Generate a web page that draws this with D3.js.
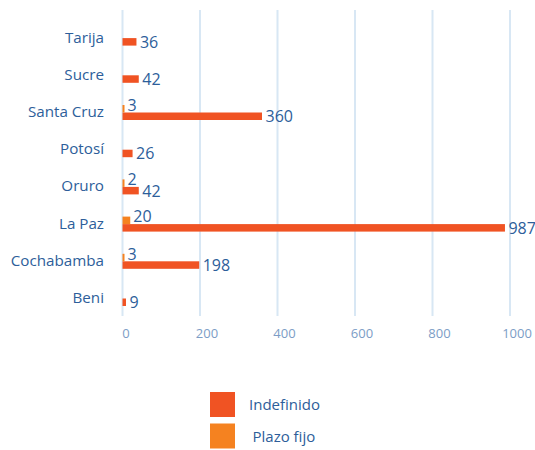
<!DOCTYPE html>
<html>
<head>
<meta charset="utf-8">
<script src="https://cdn.jsdelivr.net/npm/d3@7"></script>
<style>
  body { margin: 0; background: #fff; }
  text { font-family: "Open Sans", sans-serif; }
</style>
</head>
<body>
<svg id="chart"></svg>
<script>
const width = 535;
const height = 450;

const categories = ["Tarija", "Sucre", "Santa Cruz", "Potosí", "Oruro", "La Paz", "Cochabamba", "Beni"];
const indefinido = [36, 42, 360, 26, 42, 987, 198, 9];
const plazoFijo = [null, null, 3, null, 2, 20, 3, null];
const ticks = [0, 200, 400, 600, 800, 1000];
const seriesNames = ["Indefinido", "Plazo fijo"];

const textColor = "#2d5e9a";
const colors = { "Indefinido": "#f05323", "Plazo fijo": "#f58220" };

const svg = d3.select("#chart")
  .attr("width", width)
  .attr("height", height);

const x = d3.scaleLinear().domain([0, 1000]).range([122.5, 510]);
const y = d3.scaleBand().domain(categories).range([18, 315.6]);
// sub bars inside each category: plazo on top, indefinido below
const sub = d3.scaleBand().domain(["Plazo fijo", "Indefinido"]).range([0, 15]);
const groupTop = (c) => y(c) + y.bandwidth() / 2 - 6;

// gridlines
svg.append("g")
  .selectAll("line")
  .data(ticks)
  .enter()
  .append("line")
  .attr("x1", (d) => x(d))
  .attr("x2", (d) => x(d))
  .attr("y1", 10)
  .attr("y2", 316)
  .attr("stroke", "#d8e7f4")
  .attr("stroke-width", 2);

// tick labels
svg.append("g")
  .selectAll("text")
  .data(ticks)
  .enter()
  .append("text")
  .attr("x", (d) => x(d) + (d === 0 ? 3.5 : 7))
  .attr("y", 333)
  .attr("text-anchor", "middle")
  .attr("dominant-baseline", "central")
  .attr("font-size", "13px")
  .attr("fill", "#7c9dc6")
  .text((d) => d);

// category labels
svg.append("g")
  .selectAll("text")
  .data(categories)
  .enter()
  .append("text")
  .attr("x", 104)
  .attr("y", (d) => y(d) + y.bandwidth() / 2)
  .attr("text-anchor", "end")
  .attr("dominant-baseline", "central")
  .attr("font-size", "15.2px")
  .attr("fill", textColor)
  .text((d) => d);

const rows = categories.map((c, i) => ({ cat: c, ind: indefinido[i], plazo: plazoFijo[i] }));

// indefinido bars
svg.append("g")
  .selectAll("rect")
  .data(rows)
  .enter()
  .append("rect")
  .attr("x", x(0))
  .attr("y", (d) => groupTop(d.cat) + sub("Indefinido"))
  .attr("width", (d) => x(d.ind) - x(0))
  .attr("height", sub.bandwidth())
  .attr("fill", colors["Indefinido"]);

svg.append("g")
  .selectAll("text")
  .data(rows)
  .enter()
  .append("text")
  .attr("x", (d) => x(d.ind) + 3.5)
  .attr("y", (d) => groupTop(d.cat) + sub("Indefinido") + sub.bandwidth() / 2)
  .attr("dominant-baseline", "central")
  .attr("font-size", "16px")
  .attr("fill", textColor)
  .text((d) => d.ind);

// plazo fijo bars
const plazoRows = rows.filter((d) => d.plazo !== null);

svg.append("g")
  .selectAll("rect")
  .data(plazoRows)
  .enter()
  .append("rect")
  .attr("x", x(0))
  .attr("y", (d) => groupTop(d.cat) + sub("Plazo fijo"))
  .attr("width", (d) => Math.max(x(d.plazo) - x(0), 2))
  .attr("height", sub.bandwidth())
  .attr("fill", colors["Plazo fijo"]);

svg.append("g")
  .selectAll("text")
  .data(plazoRows)
  .enter()
  .append("text")
  .attr("x", (d) => Math.max(x(d.plazo), x(0) + 2) + 3)
  .attr("y", (d) => groupTop(d.cat) + sub("Plazo fijo") + sub.bandwidth() / 2 - 4)
  .attr("dominant-baseline", "central")
  .attr("font-size", "16px")
  .attr("fill", textColor)
  .text((d) => d.plazo);

// legend
const legend = svg.append("g")
  .selectAll("g")
  .data(seriesNames)
  .enter()
  .append("g")
  .attr("transform", (d, i) => `translate(210,${392 + i * 31.5})`);

legend.append("rect")
  .attr("width", 25)
  .attr("height", 25)
  .attr("fill", (d) => colors[d]);

legend.append("text")
  .attr("x", (d, i) => (i === 0 ? 39 : 42.5))
  .attr("y", 12)
  .attr("dominant-baseline", "central")
  .attr("font-size", "15px")
  .attr("fill", textColor)
  .text((d) => d);
</script>
</body>
</html>
